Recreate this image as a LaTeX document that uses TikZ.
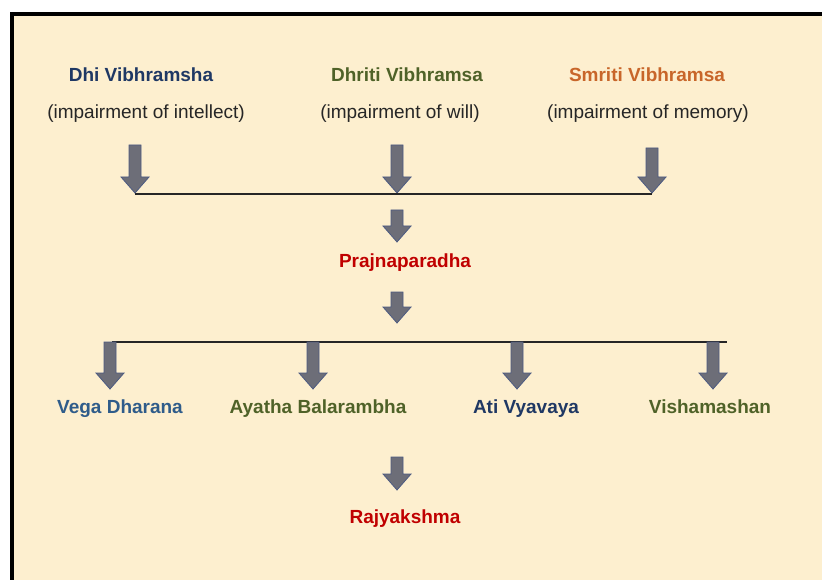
\documentclass[tikz,border=0pt]{standalone}
\usepackage{fontspec}
\setmainfont{Liberation Sans}
\usetikzlibrary{positioning}

\definecolor{paper}{HTML}{FDEFCF}
\definecolor{arrowgray}{HTML}{6D6E78}
\definecolor{arrowedge}{HTML}{4C5A82}
\definecolor{navy}{HTML}{1F3864}
\definecolor{leaf}{HTML}{4F6228}
\definecolor{rust}{HTML}{C8662A}
\definecolor{blood}{HTML}{C00000}
\definecolor{steel}{HTML}{2F5C8A}

\tikzset{
  title/.style={font=\fontsize{19}{22}\selectfont\bfseries, text height=14pt, text depth=4pt},
  gloss/.style={font=\fontsize{19}{22}\selectfont, text=black!85, text height=14pt, text depth=4pt},
  blockarrow/.style={fill=arrowgray, draw=arrowedge, line width=0.8pt},
  bus/.style={line width=1.3pt, black!85},
}

% block arrow pointing down: x, top y, tip y
\newcommand{\downblock}[3]{%
  \draw[blockarrow] (#1-6,#2) -- (#1+6,#2) -- (#1+6,#3-16) -- (#1+14,#3-16)
    -- (#1,#3) -- (#1-14,#3-16) -- (#1-6,#3-16) -- cycle;}

\begin{document}
\begin{tikzpicture}[x=1pt, y=-1pt]
  \useasboundingbox (0,0) rectangle (822,580);
  \clip (0,0) rectangle (822,580);
  \fill [white] (0,0) rectangle (822,580);
  \draw [line width=3.5pt, fill=paper] (12,14) rectangle (840,600);

  % causes
  \node [title, text=navy] (dhi) at (141,77) {Dhi Vibhramsha};
  \node [title, text=leaf] (dhriti) at (407,77) {Dhriti Vibhramsa};
  \node [title, text=rust] (smriti) at (647,77) {Smriti Vibhramsa};
  \node [gloss] (dhigloss) at (146,114) {(impairment of intellect)};
  \node [gloss] (dhritigloss) at (400,114) {(impairment of will)};
  \node [gloss] (smritigloss) at (648,114) {(impairment of memory)};

  \downblock{135}{145}{193}
  \downblock{397}{145}{193}
  \downblock{652}{148}{193}
  \coordinate (topleft) at (135,194);
  \coordinate (topright) at (652,194);
  \draw [bus] (topleft) -- (topright);

  \downblock{397}{210}{242}
  \node [title, text=blood] (prajna) at (405,262) {Prajnaparadha};
  \downblock{397}{292}{323}

  % factors
  \coordinate (midleft) at (112,342);
  \coordinate (midright) at (727,342);
  \draw [bus] (midleft) -- (midright);
  \downblock{110}{342}{389}
  \downblock{313}{342}{389}
  \downblock{517}{342}{389}
  \downblock{713}{342}{389}

  \node [title, text=steel] (vega) at (120,408) {Vega Dharana};
  \node [title, text=leaf] (ayatha) at (318,408) {Ayatha Balarambha};
  \node [title, text=navy] (ati) at (526,408) {Ati Vyavaya};
  \node [title, text=leaf] (visham) at (710,408) {Vishamashan};

  \downblock{397}{457}{490}
  \node [title, text=blood] (rajya) at (405,518) {Rajyakshma};
\end{tikzpicture}
\end{document}
